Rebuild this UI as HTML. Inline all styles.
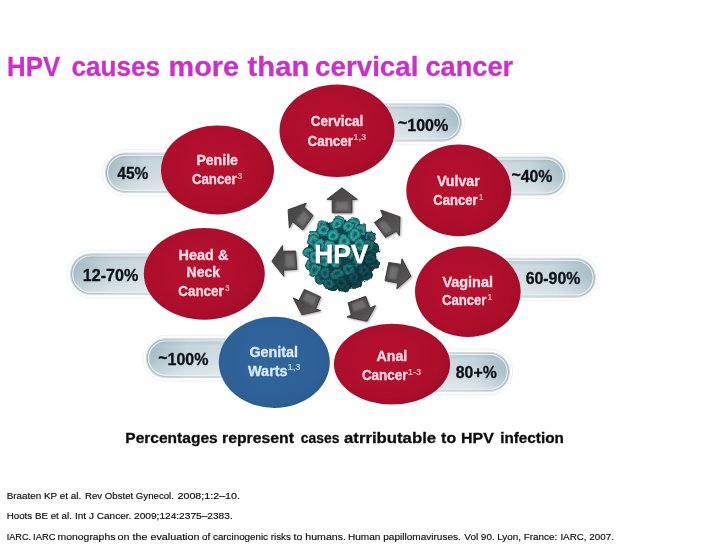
<!DOCTYPE html>
<html lang="en">
<head>
<meta charset="utf-8">
<title>HPV causes more than cervical cancer</title>
<style>
html,body{margin:0;padding:0;background:#fff;}
body{width:728px;height:546px;overflow:hidden;}
svg{display:block;}
text{font-family:"Liberation Sans",sans-serif;}
.b{font-weight:bold;stroke-width:0.3px;stroke-linejoin:round;}
</style>
</head>
<body>
<svg width="728" height="546" viewBox="0 0 728 546">
<defs>
<linearGradient id="pillL" x1="0" y1="0" x2="1" y2="0">
<stop offset="0" stop-color="#a1b8c3"/><stop offset="0.3" stop-color="#c5d4db"/><stop offset="1" stop-color="#e0e8eb"/>
</linearGradient>
<linearGradient id="pillR" x1="1" y1="0" x2="0" y2="0">
<stop offset="0" stop-color="#a1b8c3"/><stop offset="0.3" stop-color="#c5d4db"/><stop offset="1" stop-color="#e0e8eb"/>
</linearGradient>
<linearGradient id="pillV" x1="0" y1="0" x2="0" y2="1">
<stop offset="0" stop-color="#6f8792" stop-opacity="0.28"/><stop offset="0.22" stop-color="#ffffff" stop-opacity="0.0"/><stop offset="0.6" stop-color="#ffffff" stop-opacity="0.12"/><stop offset="1" stop-color="#ffffff" stop-opacity="0.4"/>
</linearGradient>
<radialGradient id="red" cx="0.45" cy="0.45" r="0.6">
<stop offset="0" stop-color="#b6112f"/><stop offset="0.75" stop-color="#ad0e2c"/><stop offset="1" stop-color="#a00b28"/>
</radialGradient>
<radialGradient id="blue" cx="0.45" cy="0.45" r="0.6">
<stop offset="0" stop-color="#31659d"/><stop offset="0.8" stop-color="#2e6097"/><stop offset="1" stop-color="#2a588c"/>
</radialGradient>
<linearGradient id="arr" x1="0" y1="0" x2="1" y2="1">
<stop offset="0" stop-color="#404040"/><stop offset="0.5" stop-color="#4e4d4d"/><stop offset="1" stop-color="#5a5858"/>
</linearGradient>
<radialGradient id="vir" cx="0.42" cy="0.38" r="0.62">
<stop offset="0" stop-color="#2f8e90"/><stop offset="0.55" stop-color="#1f6a70"/><stop offset="1" stop-color="#0e3a42"/>
</radialGradient>
<radialGradient id="bump" cx="0.45" cy="0.4" r="0.6">
<stop offset="0" stop-color="#6fd0c9" stop-opacity="0.95"/><stop offset="0.45" stop-color="#2f9a9a" stop-opacity="0.8"/><stop offset="1" stop-color="#0d3c44" stop-opacity="0.0"/>
</radialGradient>
<radialGradient id="capL" cx="0.5" cy="0.5" r="0.5">
<stop offset="0" stop-color="#115257"/><stop offset="0.25" stop-color="#1b7476"/><stop offset="0.55" stop-color="#35aaa3"/><stop offset="0.82" stop-color="#1e7c7e"/><stop offset="1" stop-color="#0d444c" stop-opacity="0.9"/>
</radialGradient>
<radialGradient id="capM" cx="0.5" cy="0.5" r="0.5">
<stop offset="0" stop-color="#0d4249"/><stop offset="0.25" stop-color="#155d62"/><stop offset="0.55" stop-color="#248784"/><stop offset="0.82" stop-color="#17656a"/><stop offset="1" stop-color="#0b3a42" stop-opacity="0.9"/>
</radialGradient>
<radialGradient id="capD" cx="0.5" cy="0.5" r="0.5">
<stop offset="0" stop-color="#09323a"/><stop offset="0.25" stop-color="#0e474e"/><stop offset="0.55" stop-color="#166167"/><stop offset="0.82" stop-color="#104c53"/><stop offset="1" stop-color="#082c34" stop-opacity="0.9"/>
</radialGradient>
<radialGradient id="virshade" cx="0.4" cy="0.3" r="0.78">
<stop offset="0.3" stop-color="#041d24" stop-opacity="0"/><stop offset="0.7" stop-color="#041d24" stop-opacity="0.22"/><stop offset="1" stop-color="#041d24" stop-opacity="0.5"/>
</radialGradient>
<filter id="ds" x="-20%" y="-20%" width="150%" height="150%"><feGaussianBlur in="SourceAlpha" stdDeviation="0.9"/><feOffset dx="0.8" dy="1"/><feComponentTransfer><feFuncA type="linear" slope="0.35"/></feComponentTransfer><feMerge><feMergeNode/><feMergeNode in="SourceGraphic"/></feMerge></filter>
<filter id="ts" x="-10%" y="-10%" width="120%" height="130%"><feGaussianBlur in="SourceAlpha" stdDeviation="0.8"/><feOffset dx="0.6" dy="0.8"/><feComponentTransfer><feFuncA type="linear" slope="0.6"/></feComponentTransfer><feMerge><feMergeNode/><feMergeNode in="SourceGraphic"/></feMerge></filter>
<filter id="soft" x="-10%" y="-10%" width="120%" height="120%"><feGaussianBlur stdDeviation="0.55"/></filter>
<filter id="soft2" x="-30%" y="-30%" width="160%" height="160%"><feGaussianBlur stdDeviation="1.3"/></filter>
<filter id="organic" x="-10%" y="-10%" width="120%" height="120%"><feTurbulence type="fractalNoise" baseFrequency="0.11" numOctaves="2" seed="4" result="n"/><feDisplacementMap in="SourceGraphic" in2="n" scale="5.5" xChannelSelector="R" yChannelSelector="G"/><feGaussianBlur stdDeviation="0.5"/></filter>
<clipPath id="vclip"><circle cx="342" cy="253.5" r="38.5"/></clipPath>
</defs>
<rect width="728" height="546" fill="#ffffff"/>
<g class="b" font-size="27.4" fill="#cb31c9" stroke="#cb31c9">
<text x="7.1" y="75.8" textLength="53.1" lengthAdjust="spacingAndGlyphs">HPV</text>
<text x="71.5" y="75.8" textLength="88.6" lengthAdjust="spacingAndGlyphs">causes</text>
<text x="168.6" y="75.8" textLength="70.4" lengthAdjust="spacingAndGlyphs">more</text>
<text x="247.6" y="75.8" textLength="61.7" lengthAdjust="spacingAndGlyphs">than</text>
<text x="315.1" y="75.8" textLength="103.3" lengthAdjust="spacingAndGlyphs">cervical</text>
<text x="425.4" y="75.8" textLength="87.8" lengthAdjust="spacingAndGlyphs">cancer</text>
</g>
<g>
<rect x="326.8" y="100.2" width="137.9" height="44.6" rx="22.3" fill="#fbfcfc" stroke="#eceff0" stroke-width="0.8"/>
<rect x="330.0" y="103.8" width="131.5" height="37.4" rx="18.7" fill="url(#pillR)" stroke="#d3dadd" stroke-width="1"/>
<rect x="332.2" y="106.0" width="127.1" height="33.0" rx="16.5" fill="url(#pillV)" stroke="#e9eef0" stroke-width="1.2"/>
<text class="b" x="397.9" y="130.6" font-size="15.8" fill="#0b1017" stroke="#0b1017" textLength="50.4" lengthAdjust="spacingAndGlyphs"><tspan dy="-2.4">~</tspan><tspan dy="2.4">100%</tspan></text>
</g>
<g>
<rect x="102.2" y="149.5" width="131.0" height="46.7" rx="23.4" fill="#fbfcfc" stroke="#eceff0" stroke-width="0.8"/>
<rect x="105.4" y="153.1" width="124.6" height="39.5" rx="19.8" fill="url(#pillL)" stroke="#d3dadd" stroke-width="1"/>
<rect x="107.6" y="155.3" width="120.2" height="35.1" rx="17.6" fill="url(#pillV)" stroke="#e9eef0" stroke-width="1.2"/>
<text class="b" x="117.3" y="178.6" font-size="15.8" fill="#0b1017" stroke="#0b1017" textLength="31.1" lengthAdjust="spacingAndGlyphs">45%</text>
</g>
<g>
<rect x="446.8" y="153.4" width="121.9" height="45.2" rx="22.6" fill="#fbfcfc" stroke="#eceff0" stroke-width="0.8"/>
<rect x="450.0" y="157.0" width="115.5" height="38.0" rx="19.0" fill="url(#pillR)" stroke="#d3dadd" stroke-width="1"/>
<rect x="452.2" y="159.2" width="111.1" height="33.6" rx="16.8" fill="url(#pillV)" stroke="#e9eef0" stroke-width="1.2"/>
<text class="b" x="511.4" y="181.9" font-size="15.8" fill="#0b1017" stroke="#0b1017" textLength="41.0" lengthAdjust="spacingAndGlyphs"><tspan dy="-2.4">~</tspan><tspan dy="2.4">40%</tspan></text>
</g>
<g>
<rect x="67.3" y="250.2" width="145.9" height="47.9" rx="23.9" fill="#fbfcfc" stroke="#eceff0" stroke-width="0.8"/>
<rect x="70.5" y="253.8" width="139.5" height="40.7" rx="20.3" fill="url(#pillL)" stroke="#d3dadd" stroke-width="1"/>
<rect x="72.7" y="256.0" width="135.1" height="36.3" rx="18.1" fill="url(#pillV)" stroke="#e9eef0" stroke-width="1.2"/>
<text class="b" x="82.8" y="281.1" font-size="15.8" fill="#0b1017" stroke="#0b1017" textLength="55.6" lengthAdjust="spacingAndGlyphs">12-70%</text>
</g>
<g>
<rect x="456.8" y="254.8" width="141.7" height="46.0" rx="23.0" fill="#fbfcfc" stroke="#eceff0" stroke-width="0.8"/>
<rect x="460.0" y="258.4" width="135.3" height="38.8" rx="19.4" fill="url(#pillR)" stroke="#d3dadd" stroke-width="1"/>
<rect x="462.2" y="260.6" width="130.9" height="34.4" rx="17.2" fill="url(#pillV)" stroke="#e9eef0" stroke-width="1.2"/>
<text class="b" x="525.7" y="283.5" font-size="15.8" fill="#0b1017" stroke="#0b1017" textLength="54.7" lengthAdjust="spacingAndGlyphs">60-90%</text>
</g>
<g>
<rect x="143.1" y="335.2" width="140.1" height="45.9" rx="22.9" fill="#fbfcfc" stroke="#eceff0" stroke-width="0.8"/>
<rect x="146.3" y="338.8" width="133.7" height="38.7" rx="19.3" fill="url(#pillL)" stroke="#d3dadd" stroke-width="1"/>
<rect x="148.5" y="341.0" width="129.3" height="34.3" rx="17.1" fill="url(#pillV)" stroke="#e9eef0" stroke-width="1.2"/>
<text class="b" x="158.2" y="365.1" font-size="15.8" fill="#0b1017" stroke="#0b1017" textLength="50.3" lengthAdjust="spacingAndGlyphs"><tspan dy="-2.4">~</tspan><tspan dy="2.4">100%</tspan></text>
</g>
<g>
<rect x="386.8" y="348.9" width="125.9" height="46.0" rx="23.0" fill="#fbfcfc" stroke="#eceff0" stroke-width="0.8"/>
<rect x="390.0" y="352.5" width="119.5" height="38.8" rx="19.4" fill="url(#pillR)" stroke="#d3dadd" stroke-width="1"/>
<rect x="392.2" y="354.7" width="115.1" height="34.4" rx="17.2" fill="url(#pillV)" stroke="#e9eef0" stroke-width="1.2"/>
<text class="b" x="455.8" y="378.1" font-size="15.8" fill="#0b1017" stroke="#0b1017" textLength="40.9" lengthAdjust="spacingAndGlyphs">80+%</text>
</g>
<ellipse cx="337" cy="130.8" rx="57.5" ry="46.3" fill="url(#red)"/>
<text class="b" x="310.7" y="126.3" font-size="14" fill="#fbdde2" stroke="#fbdde2" textLength="52.7" lengthAdjust="spacingAndGlyphs">Cervical</text>
<text class="b" x="307.5" y="145.5" font-size="14" fill="#fbdde2" stroke="#fbdde2" textLength="45.5" lengthAdjust="spacingAndGlyphs">Cancer</text>
<text x="353.2" y="140.4" font-size="8.3" font-weight="bold" fill="#f6aebb" textLength="13.1" lengthAdjust="spacingAndGlyphs">1,3</text>
<ellipse cx="217.5" cy="170" rx="56.5" ry="44.5" fill="url(#red)"/>
<text class="b" x="196.4" y="164.6" font-size="14" fill="#fbdde2" stroke="#fbdde2" textLength="41.5" lengthAdjust="spacingAndGlyphs">Penile</text>
<text class="b" x="192.0" y="183.7" font-size="14" fill="#fbdde2" stroke="#fbdde2" textLength="44.7" lengthAdjust="spacingAndGlyphs">Cancer</text>
<text x="237.6" y="178.6" font-size="8.3" font-weight="bold" fill="#f6aebb" textLength="4.9" lengthAdjust="spacingAndGlyphs">3</text>
<ellipse cx="458.8" cy="190.4" rx="52.5" ry="45.9" fill="url(#red)"/>
<text class="b" x="436.9" y="185.5" font-size="14" fill="#fbdde2" stroke="#fbdde2" textLength="42.8" lengthAdjust="spacingAndGlyphs">Vulvar</text>
<text class="b" x="433.3" y="204.7" font-size="14" fill="#fbdde2" stroke="#fbdde2" textLength="44.2" lengthAdjust="spacingAndGlyphs">Cancer</text>
<text x="478.9" y="199.6" font-size="8.3" font-weight="bold" fill="#f6aebb" textLength="4.1" lengthAdjust="spacingAndGlyphs">1</text>
<ellipse cx="204.3" cy="273.8" rx="60.5" ry="45.9" fill="url(#red)"/>
<text class="b" x="178.5" y="260.0" font-size="14" fill="#fbdde2" stroke="#fbdde2" textLength="49.9" lengthAdjust="spacingAndGlyphs">Head &amp;</text>
<text class="b" x="186.6" y="277.0" font-size="14" fill="#fbdde2" stroke="#fbdde2" textLength="33.4" lengthAdjust="spacingAndGlyphs">Neck</text>
<text class="b" x="178.2" y="296.1" font-size="14" fill="#fbdde2" stroke="#fbdde2" textLength="45.6" lengthAdjust="spacingAndGlyphs">Cancer</text>
<text x="225.1" y="291.0" font-size="8.3" font-weight="bold" fill="#f6aebb" textLength="4.6" lengthAdjust="spacingAndGlyphs">3</text>
<ellipse cx="467.8" cy="291.6" rx="52.8" ry="45.4" fill="url(#red)"/>
<text class="b" x="442.4" y="287.0" font-size="14" fill="#fbdde2" stroke="#fbdde2" textLength="50.6" lengthAdjust="spacingAndGlyphs">Vaginal</text>
<text class="b" x="442.0" y="305.3" font-size="14" fill="#fbdde2" stroke="#fbdde2" textLength="44.4" lengthAdjust="spacingAndGlyphs">Cancer</text>
<text x="487.6" y="300.2" font-size="8.3" font-weight="bold" fill="#f6aebb" textLength="4.7" lengthAdjust="spacingAndGlyphs">1</text>
<ellipse cx="274.3" cy="362.3" rx="55.5" ry="45.6" fill="url(#blue)"/>
<text class="b" x="249.4" y="357.0" font-size="14" fill="#dcecfa" stroke="#dcecfa" textLength="48.6" lengthAdjust="spacingAndGlyphs">Genital</text>
<text class="b" x="248.0" y="375.5" font-size="14" fill="#dcecfa" stroke="#dcecfa" textLength="39.6" lengthAdjust="spacingAndGlyphs">Warts</text>
<text x="287.5" y="370.4" font-size="8.3" font-weight="bold" fill="#a6cdf0" textLength="13.1" lengthAdjust="spacingAndGlyphs">1,3</text>
<ellipse cx="392" cy="364.1" rx="58.1" ry="40.4" fill="url(#red)"/>
<text class="b" x="376.6" y="361.3" font-size="14" fill="#fbdde2" stroke="#fbdde2" textLength="30.7" lengthAdjust="spacingAndGlyphs">Anal</text>
<text class="b" x="361.9" y="379.8" font-size="14" fill="#fbdde2" stroke="#fbdde2" textLength="45.6" lengthAdjust="spacingAndGlyphs">Cancer</text>
<text x="407.8" y="374.7" font-size="8.3" font-weight="bold" fill="#f6aebb" textLength="13.5" lengthAdjust="spacingAndGlyphs">1-3</text>
<g filter="url(#ds)">
<polygon points="341.9,187.8 357.3,199.4 351.9,199.4 351.9,212.8 332.2,212.8 332.2,199.4 326.9,199.4" fill="url(#arr)" stroke="#383838" stroke-width="0.9" stroke-linejoin="round"/>
<polygon points="288.1,209.8 306.3,203.1 304.2,207.0 313.1,215.6 302.8,230.0 292.4,221.6 289.4,228.1" fill="url(#arr)" stroke="#383838" stroke-width="0.9" stroke-linejoin="round"/>
<polygon points="271.9,261.3 282.3,245.6 282.6,251.2 295.6,251.0 296.9,269.4 283.5,270.2 283.8,276.3" fill="url(#arr)" stroke="#383838" stroke-width="0.9" stroke-linejoin="round"/>
<polygon points="301.9,314.8 293.1,297.8 298.8,300.6 304.4,289.4 320.6,296.9 315.6,308.8 320.6,310.6" fill="url(#arr)" stroke="#383838" stroke-width="0.9" stroke-linejoin="round"/>
<polygon points="366.9,321.3 346.9,316.9 351.3,315.0 348.1,302.8 365.6,296.3 370.0,308.0 375.6,305.6" fill="url(#arr)" stroke="#383838" stroke-width="0.9" stroke-linejoin="round"/>
<polygon points="411.0,276.3 401.9,258.8 401.3,264.4 388.8,262.5 385.0,280.6 397.5,283.1 396.9,288.8" fill="url(#arr)" stroke="#383838" stroke-width="0.9" stroke-linejoin="round"/>
<polygon points="400.0,216.9 380.6,210.0 383.1,216.3 374.4,222.5 385.6,237.5 396.3,231.3 399.4,235.6" fill="url(#arr)" stroke="#383838" stroke-width="0.9" stroke-linejoin="round"/>
</g>
<g filter="url(#soft2)" opacity="0.75">
<polygon points="348.6,201.7 348.6,210.5 335.5,210.5 335.5,201.7" fill="#7d7b7b"/>
<polygon points="303.8,210.9 309.7,216.6 302.9,226.1 296.0,220.6" fill="#7d7b7b"/>
<polygon points="285.0,254.3 293.6,254.2 294.4,266.4 285.6,266.9" fill="#7d7b7b"/>
<polygon points="302.6,300.0 306.3,292.6 316.9,297.6 313.6,305.4" fill="#7d7b7b"/>
<polygon points="353.8,311.8 351.7,303.7 363.3,299.4 366.2,307.2" fill="#7d7b7b"/>
<polygon points="398.5,267.2 390.3,266.0 387.8,277.9 396.0,279.5" fill="#7d7b7b"/>
<polygon points="383.7,219.9 378.0,224.0 385.3,233.9 392.4,229.8" fill="#7d7b7b"/>
</g>
<g filter="url(#organic)">
<circle cx="341.8" cy="254" r="34.8" fill="#0d4249"/>
<circle cx="333.1" cy="285.8" r="5.6" fill="url(#capD)"/>
<circle cx="313.9" cy="236.2" r="5.6" fill="url(#capL)"/>
<circle cx="310.6" cy="265.3" r="5.6" fill="url(#capL)"/>
<circle cx="338.3" cy="221.0" r="5.6" fill="url(#capL)"/>
<circle cx="320.1" cy="279.1" r="5.6" fill="url(#capM)"/>
<circle cx="343.9" cy="287.0" r="5.7" fill="url(#capD)"/>
<circle cx="353.3" cy="223.1" r="5.8" fill="url(#capL)"/>
<circle cx="374.5" cy="249.5" r="5.8" fill="url(#capD)"/>
<circle cx="322.9" cy="227.0" r="5.8" fill="url(#capL)"/>
<circle cx="373.5" cy="262.9" r="5.8" fill="url(#capD)"/>
<circle cx="370.0" cy="237.4" r="5.8" fill="url(#capM)"/>
<circle cx="367.0" cy="274.8" r="5.9" fill="url(#capD)"/>
<circle cx="356.3" cy="283.2" r="5.9" fill="url(#capD)"/>
<circle cx="309.2" cy="252.9" r="5.9" fill="url(#capL)"/>
<circle cx="328.6" cy="282.6" r="6.0" fill="url(#capM)"/>
<circle cx="313.6" cy="240.5" r="6.1" fill="url(#capL)"/>
<circle cx="315.1" cy="270.1" r="6.1" fill="url(#capL)"/>
<circle cx="361.2" cy="230.0" r="6.1" fill="url(#capL)"/>
<circle cx="336.1" cy="224.1" r="6.2" fill="url(#capL)"/>
<circle cx="324.1" cy="231.1" r="6.3" fill="url(#capL)"/>
<circle cx="340.7" cy="282.8" r="6.3" fill="url(#capD)"/>
<circle cx="348.2" cy="226.2" r="6.3" fill="url(#capL)"/>
<circle cx="369.6" cy="258.2" r="6.3" fill="url(#capD)"/>
<circle cx="368.4" cy="245.2" r="6.4" fill="url(#capM)"/>
<circle cx="314.1" cy="257.9" r="6.4" fill="url(#capL)"/>
<circle cx="364.0" cy="270.1" r="6.4" fill="url(#capD)"/>
<circle cx="353.5" cy="278.6" r="6.4" fill="url(#capD)"/>
<circle cx="324.6" cy="273.6" r="6.5" fill="url(#capM)"/>
<circle cx="318.9" cy="245.0" r="6.5" fill="url(#capL)"/>
<circle cx="354.9" cy="235.0" r="6.6" fill="url(#capL)"/>
<circle cx="333.2" cy="234.8" r="6.7" fill="url(#capL)"/>
<circle cx="336.9" cy="273.7" r="6.7" fill="url(#capM)"/>
<circle cx="323.7" cy="261.1" r="6.7" fill="url(#capL)"/>
<circle cx="359.3" cy="245.8" r="6.7" fill="url(#capL)"/>
<circle cx="358.2" cy="259.8" r="6.8" fill="url(#capM)"/>
<circle cx="349.2" cy="269.1" r="6.8" fill="url(#capM)"/>
<circle cx="329.3" cy="246.8" r="6.9" fill="url(#capL)"/>
<circle cx="343.9" cy="240.7" r="6.9" fill="url(#capL)"/>
<circle cx="335.7" cy="260.2" r="7.0" fill="url(#capL)"/>
<circle cx="346.8" cy="253.1" r="7.0" fill="url(#capL)"/>
<clipPath id="vshape">
<circle cx="341.8" cy="254" r="34.8"/>
<circle cx="333.1" cy="285.8" r="5.3"/>
<circle cx="313.9" cy="236.2" r="5.3"/>
<circle cx="310.6" cy="265.3" r="5.3"/>
<circle cx="338.3" cy="221.0" r="5.3"/>
<circle cx="320.1" cy="279.1" r="5.3"/>
<circle cx="343.9" cy="287.0" r="5.4"/>
<circle cx="353.3" cy="223.1" r="5.5"/>
<circle cx="374.5" cy="249.5" r="5.5"/>
<circle cx="322.9" cy="227.0" r="5.5"/>
<circle cx="373.5" cy="262.9" r="5.5"/>
<circle cx="370.0" cy="237.4" r="5.5"/>
<circle cx="367.0" cy="274.8" r="5.6"/>
<circle cx="356.3" cy="283.2" r="5.6"/>
<circle cx="309.2" cy="252.9" r="5.6"/>
<circle cx="328.6" cy="282.6" r="5.7"/>
<circle cx="313.6" cy="240.5" r="5.8"/>
<circle cx="315.1" cy="270.1" r="5.8"/>
<circle cx="361.2" cy="230.0" r="5.8"/>
<circle cx="336.1" cy="224.1" r="5.9"/>
<circle cx="324.1" cy="231.1" r="6.0"/>
<circle cx="340.7" cy="282.8" r="6.0"/>
<circle cx="348.2" cy="226.2" r="6.0"/>
<circle cx="369.6" cy="258.2" r="6.0"/>
<circle cx="368.4" cy="245.2" r="6.1"/>
<circle cx="314.1" cy="257.9" r="6.1"/>
<circle cx="364.0" cy="270.1" r="6.1"/>
<circle cx="353.5" cy="278.6" r="6.1"/>
<circle cx="324.6" cy="273.6" r="6.2"/>
<circle cx="318.9" cy="245.0" r="6.2"/>
<circle cx="354.9" cy="235.0" r="6.3"/>
<circle cx="333.2" cy="234.8" r="6.4"/>
<circle cx="336.9" cy="273.7" r="6.4"/>
<circle cx="323.7" cy="261.1" r="6.4"/>
<circle cx="359.3" cy="245.8" r="6.4"/>
<circle cx="358.2" cy="259.8" r="6.5"/>
<circle cx="349.2" cy="269.1" r="6.5"/>
<circle cx="329.3" cy="246.8" r="6.6"/>
<circle cx="343.9" cy="240.7" r="6.6"/>
<circle cx="335.7" cy="260.2" r="6.7"/>
<circle cx="346.8" cy="253.1" r="6.7"/>
</clipPath>
<circle cx="341.8" cy="254" r="40.8" fill="url(#virshade)" clip-path="url(#vshape)"/>
</g>
<text class="b" x="314.2" y="262.9" font-size="26.6" fill="#ffffff" stroke="#ffffff" filter="url(#ts)" textLength="54.3" lengthAdjust="spacingAndGlyphs">HPV</text>
<g class="b" font-size="15.1" fill="#0c0c0c" stroke="#0c0c0c">
<text x="125.3" y="443" textLength="92.4" lengthAdjust="spacingAndGlyphs">Percentages</text>
<text x="222.0" y="443" textLength="72.0" lengthAdjust="spacingAndGlyphs">represent</text>
<text x="300.8" y="443" textLength="38.6" lengthAdjust="spacingAndGlyphs">cases</text>
<text x="344.0" y="443" textLength="92.1" lengthAdjust="spacingAndGlyphs">atrributable</text>
<text x="441.1" y="443" textLength="15.0" lengthAdjust="spacingAndGlyphs">to</text>
<text x="461.1" y="443" textLength="32.8" lengthAdjust="spacingAndGlyphs">HPV</text>
<text x="500.2" y="443" textLength="63.7" lengthAdjust="spacingAndGlyphs">infection</text>
</g>
<g font-size="9.9" fill="#0a0a0a" stroke="#0a0a0a" stroke-width="0.15">
<text x="6.7" y="498.8" textLength="74.5" lengthAdjust="spacingAndGlyphs">Braaten KP et al.</text>
<text x="85.0" y="498.8" textLength="88.9" lengthAdjust="spacingAndGlyphs">Rev Obstet Gynecol.</text>
<text x="177.5" y="498.8" textLength="62.5" lengthAdjust="spacingAndGlyphs">2008;1:2–10.</text>
</g>
<g font-size="9.9" fill="#0a0a0a" stroke="#0a0a0a" stroke-width="0.15">
<text x="6.7" y="518.6" textLength="65.2" lengthAdjust="spacingAndGlyphs">Hoots BE et al.</text>
<text x="74.9" y="518.6" textLength="56.5" lengthAdjust="spacingAndGlyphs">Int J Cancer.</text>
<text x="134.0" y="518.6" textLength="98.7" lengthAdjust="spacingAndGlyphs">2009;124:2375–2383.</text>
</g>
<g font-size="9.9" fill="#0a0a0a" stroke="#0a0a0a" stroke-width="0.15">
<text x="6.7" y="539.5" textLength="24.4" lengthAdjust="spacingAndGlyphs">IARC.</text>
<text x="33.1" y="539.5" textLength="22.5" lengthAdjust="spacingAndGlyphs">IARC</text>
<text x="57.6" y="539.5" textLength="57.8" lengthAdjust="spacingAndGlyphs">monographs</text>
<text x="117.5" y="539.5" textLength="82.0" lengthAdjust="spacingAndGlyphs">on the evaluation</text>
<text x="202.1" y="539.5" textLength="88.8" lengthAdjust="spacingAndGlyphs">of carcinogenic risks</text>
<text x="293.6" y="539.5" textLength="52.3" lengthAdjust="spacingAndGlyphs">to humans.</text>
<text x="348.0" y="539.5" textLength="112.9" lengthAdjust="spacingAndGlyphs">Human papillomaviruses.</text>
<text x="464.3" y="539.5" textLength="30.4" lengthAdjust="spacingAndGlyphs">Vol 90.</text>
<text x="497.2" y="539.5" textLength="60.0" lengthAdjust="spacingAndGlyphs">Lyon, France:</text>
<text x="560.4" y="539.5" textLength="53.5" lengthAdjust="spacingAndGlyphs">IARC, 2007.</text>
</g>
</svg>
</body>
</html>
